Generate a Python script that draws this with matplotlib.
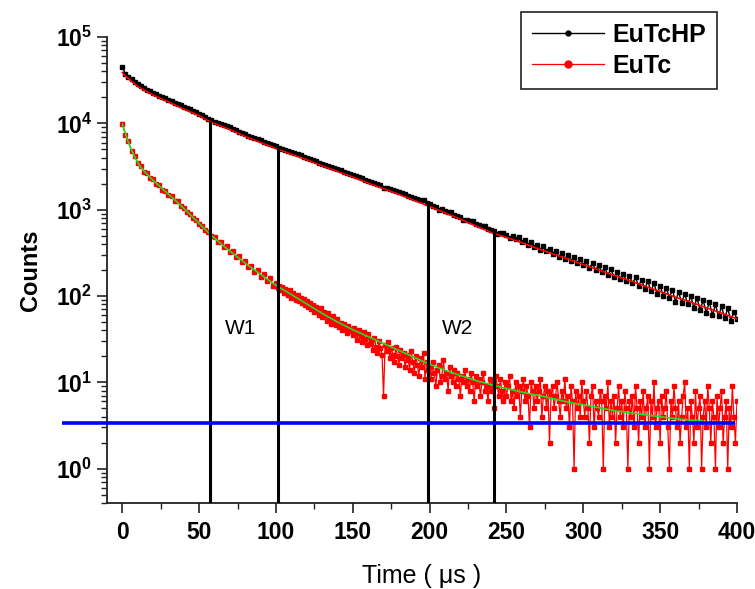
import matplotlib
matplotlib.use('Agg')
import matplotlib.pyplot as plt
import numpy as np
from matplotlib.ticker import MultipleLocator, LogLocator, FuncFormatter, NullFormatter

# ---------------- data ----------------
# EuTcHP measured decay, counts at t = 0, 2, 4, ... 400 us
eutchp_step_us = 2
eutchp_counts = [
    45000, 37400, 34900, 32500, 30400, 28300, 27100, 25800, 24700, 23600,
    22600, 21700, 20900, 20200, 19500, 18700, 18000, 17400, 16800, 16200,
    15600, 15000, 14500, 14000, 13500, 13000, 12400, 11800, 11300, 10900,
    10500, 10200, 9900, 9570, 9270, 8970, 8650, 8330, 8030, 7750,
    7460, 7230, 6990, 6780, 6560, 6360, 6150, 5950, 5770, 5580,
    5410, 5240, 5090, 4940, 4800, 4660, 4520, 4390, 4250, 4130,
    4010, 3880, 3760, 3640, 3520, 3410, 3310, 3210, 3120, 3030,
    2940, 2850, 2770, 2690, 2610, 2530, 2450, 2370, 2360, 2220,
    2150, 2090, 2030, 1970, 1910, 1800, 1800, 1740, 1690, 1650,
    1600, 1550, 1530, 1450, 1400, 1360, 1320, 1280, 1280, 1190,
    1150, 1110, 1080, 1000, 1010, 975, 940, 930, 875, 845,
    820, 770, 760, 735, 735, 690, 665, 645, 640, 600,
    575, 560, 525, 535, 540, 505, 470, 500, 455, 480,
    420, 445, 395, 420, 370, 395, 340, 375, 330, 350,
    305, 335, 285, 315, 270, 300, 258, 285, 240, 270,
    228, 252, 212, 240, 200, 228, 190, 215, 176, 205,
    165, 192, 158, 182, 148, 172, 140, 165, 130, 155,
    122, 148, 114, 140, 106, 132, 100, 124, 96, 118,
    86, 112, 84, 106, 80, 100, 72, 96, 68, 90,
    64, 86, 60, 80, 58, 76, 55, 72, 52, 66,
    54,
]

# EuTc measured decay: t = 0, 2, ... 98 us
eutc_early_step_us = 2
eutc_counts_early = [
    9900, 7400, 6200, 4750, 4200, 3450, 3200, 2700, 2650, 2320,
    2260, 1980, 1930, 1700, 1650, 1470, 1440, 1270, 1250, 1090,
    1050, 930, 900, 795, 770, 675, 655, 575, 555, 490,
    480, 425, 420, 370, 375, 325, 330, 280, 290, 245,
    255, 215, 225, 188, 200, 168, 180, 148, 160, 131,
]
# EuTc measured decay: t = 100, 101, ... 400 us
eutc_late_start_us = 100
eutc_late_step_us = 1
eutc_counts_late = [
    142, 124, 131, 118, 127, 109, 121, 114, 103, 116,
    95, 108, 99, 90, 102, 88, 96, 84, 93, 79,
    88, 74, 83, 70, 79, 66, 75, 69, 61, 72,
    57, 66, 60, 52, 63, 55, 48, 58, 51, 46,
    54, 44, 49, 40, 47, 43, 37, 45, 39, 41,
    35, 43, 37, 31, 40, 34, 29, 38, 32, 27,
    36, 28, 31, 24, 33, 26, 22, 30, 25, 21,
    7, 27, 23, 29, 19, 25, 21, 17, 26, 20,
    16, 24, 19, 22, 15, 21, 18, 14, 23, 17,
    13, 20, 16, 12, 19, 15, 22, 11, 17, 14,
    15, 11, 17, 13, 9, 14, 16, 10, 12, 18,
    11, 13, 8, 15, 12, 10, 14, 9, 13, 11,
    7, 12, 10, 14, 9, 11, 8, 13, 10, 6,
    12, 9, 11, 7, 10, 13, 8, 9, 6, 11,
    8, 10, 5, 12, 9, 7, 11, 8, 6, 10,
    7, 9, 12, 6, 8, 5, 10, 7, 9, 4,
    8, 11, 6, 9, 7, 3, 10, 8, 5, 9,
    6, 8, 11, 4, 7, 9, 5, 8, 2, 7,
    9, 5, 7, 10, 6, 4, 8, 6, 11, 5,
    7, 3, 9, 6, 1, 8, 5, 7, 4, 10,
    6, 4, 8, 5, 2, 7, 9, 3, 6, 5,
    4, 8, 6, 1, 7, 5, 10, 3, 6, 4,
    7, 2, 5, 9, 4, 6, 3, 8, 5, 1,
    6, 4, 7, 3, 9, 5, 2, 6, 4, 8,
    3, 5, 7, 1, 6, 4, 10, 3, 5, 6,
    2, 7, 4, 5, 8, 3, 1, 6, 4, 9,
    5, 3, 6, 2, 4, 7, 10, 3, 5, 1,
    6, 4, 2, 8, 3, 5, 7, 1, 4, 6,
    3, 9, 5, 2, 6, 4, 1, 7, 3, 5,
    8, 2, 4, 6, 1, 5, 3, 9, 4, 2,
    6,
]

# fitted curve through EuTcHP (red line)
fit_hp_time = [0, 2, 4, 6, 8, 10, 15, 20, 25, 30, 35, 40, 45, 50, 55, 60, 70, 80, 90,
               100, 110, 120, 130, 140, 150, 160, 170, 180, 190, 200, 210, 220, 230,
               240, 250, 260, 270, 280, 290, 300, 310, 320, 330, 340, 350, 360, 370,
               380, 390, 400]
fit_hp_counts = [39000, 35300, 33000, 30700, 28700, 26800, 23800, 21300, 19400, 17700,
                 16100, 14700, 13400, 12300, 10900, 9950, 8470, 7050, 6000, 5110, 4400,
                 3790, 3220, 2770, 2390, 2030, 1750, 1510, 1280, 1090, 920, 775, 650,
                 545, 477, 415, 356, 308, 268, 231, 201, 173, 151, 130, 113, 97, 85,
                 73, 63.5, 54.5]

# fitted curve through EuTc (green line)
fit_tc_time = [0, 2, 4, 6, 8, 10, 12, 15, 20, 25, 30, 35, 40, 45, 50, 55, 60, 70, 80, 90,
               100, 110, 120, 130, 140, 150, 160, 170, 180, 190, 200, 210, 220, 230,
               240, 250, 260, 270, 280, 290, 300, 310, 320, 330, 340, 350, 360, 370, 377]
fit_tc_counts = [9800, 7600, 6000, 4900, 4100, 3550, 3100, 2700, 2190, 1820, 1510, 1260,
                 1035, 850, 692, 565, 468, 331, 240, 178, 133, 104, 81, 63, 50, 40.7,
                 33.9, 28.2, 23.4, 19.5, 16.2, 13.8, 12.0, 10.5, 9.4, 8.5, 7.7, 7.1, 6.5,
                 5.9, 5.5, 5.1, 4.7, 4.45, 4.2, 4.0, 3.8, 3.65, 3.6]

# gate windows (vertical black lines) and their tops
window_edges_us = [57, 101, 199, 242]
window_tops = [10600, 5300, 1150, 560]
window_labels = ['W1', 'W2']
window_label_x = [77, 218]
window_label_y = 42

background_level = 3.4
background_span = [-39, 399]

series_labels = ['EuTcHP', 'EuTc']
x_ticks = [0, 50, 100, 150, 200, 250, 300, 350, 400]

# ---------------- figure ----------------
plt.rcParams['font.family'] = ['Liberation Sans', 'DejaVu Sans']
plt.rcParams['mathtext.default'] = 'regular'

fig = plt.figure(figsize=(7.55, 5.89), dpi=100)
ax = fig.add_axes([0.1417, 0.146, 0.8344, 0.791])

t_hp = np.arange(len(eutchp_counts)) * eutchp_step_us
t_tc = np.concatenate([np.arange(len(eutc_counts_early)) * eutc_early_step_us,
                       eutc_late_start_us + np.arange(len(eutc_counts_late)) * eutc_late_step_us])
eutc_counts = eutc_counts_early + eutc_counts_late

ax.plot(t_hp, eutchp_counts, color='black', lw=1.0, marker='s', ms=2.8,
        mec='black', mfc='black', label=series_labels[0], zorder=3)
ax.plot(t_tc, eutc_counts, color='#ff0000', lw=0.9, marker='s', ms=2.6,
        mec='#ff0000', mfc='#ff0000', label=series_labels[1], zorder=3)
ax.plot(fit_hp_time, fit_hp_counts, color='#ff0000', lw=1.2, zorder=4)
ax.plot(fit_tc_time, fit_tc_counts, color='#22dd22', lw=1.2, zorder=4)

ax.vlines(window_edges_us, 0.4, window_tops, colors='black', lw=2.2, zorder=5)
ax.hlines(background_level, background_span[0], background_span[1],
          colors='#0000ff', lw=2.6, zorder=6, clip_on=False)

for lab, lx in zip(window_labels, window_label_x):
    ax.text(lx, window_label_y, lab, fontsize=15, ha='center', va='center', zorder=7)

ax.set_yscale('log')
ax.set_xlim(-10, 400)
ax.set_ylim(0.4, 1e5)

ax.set_xticks(x_ticks)
ax.xaxis.set_minor_locator(MultipleLocator(25))
ax.yaxis.set_major_locator(LogLocator(base=10, numticks=10))
ax.yaxis.set_minor_locator(LogLocator(base=10, subs=np.arange(2, 10), numticks=20))
ax.yaxis.set_major_formatter(FuncFormatter(lambda v, p: r'$10^{%d}$' % int(round(np.log10(v)))))
ax.yaxis.set_minor_formatter(NullFormatter())

for s in ['top', 'right']:
    ax.spines[s].set_visible(False)
for s in ['left', 'bottom']:
    ax.spines[s].set_linewidth(1.3)
    ax.spines[s].set_color('#222222')

ax.tick_params(axis='both', which='major', direction='out', length=7, width=1.2,
               labelsize=16.5, colors='#222222', labelcolor='black')
ax.tick_params(axis='both', which='minor', direction='out', length=4, width=1.0,
               colors='#222222')
ax.tick_params(axis='x', pad=6)
for lbl in ax.get_xticklabels() + ax.get_yticklabels():
    lbl.set_fontweight('bold')

ax.set_xlabel('Time ( μs )', fontsize=18, labelpad=14)
ax.set_ylabel('Counts', fontsize=17, fontweight='bold', labelpad=10)

leg = ax.legend(loc='upper right', bbox_to_anchor=(717 / 755, 1 - 12 / 589),
                bbox_transform=fig.transFigure, frameon=True,
                prop={'size': 18, 'weight': 'bold'},
                fancybox=False, edgecolor='#222222', framealpha=1, numpoints=1,
                handlelength=2.9, handletextpad=0.35, labelspacing=0.3,
                borderpad=0.42, borderaxespad=0)
leg.get_frame().set_linewidth(1.2)
for h, ms in zip(leg.get_lines(), [3.5, 5]):
    h.set_marker('o')
    h.set_markersize(ms)

fig.savefig('out.png', dpi=100)
